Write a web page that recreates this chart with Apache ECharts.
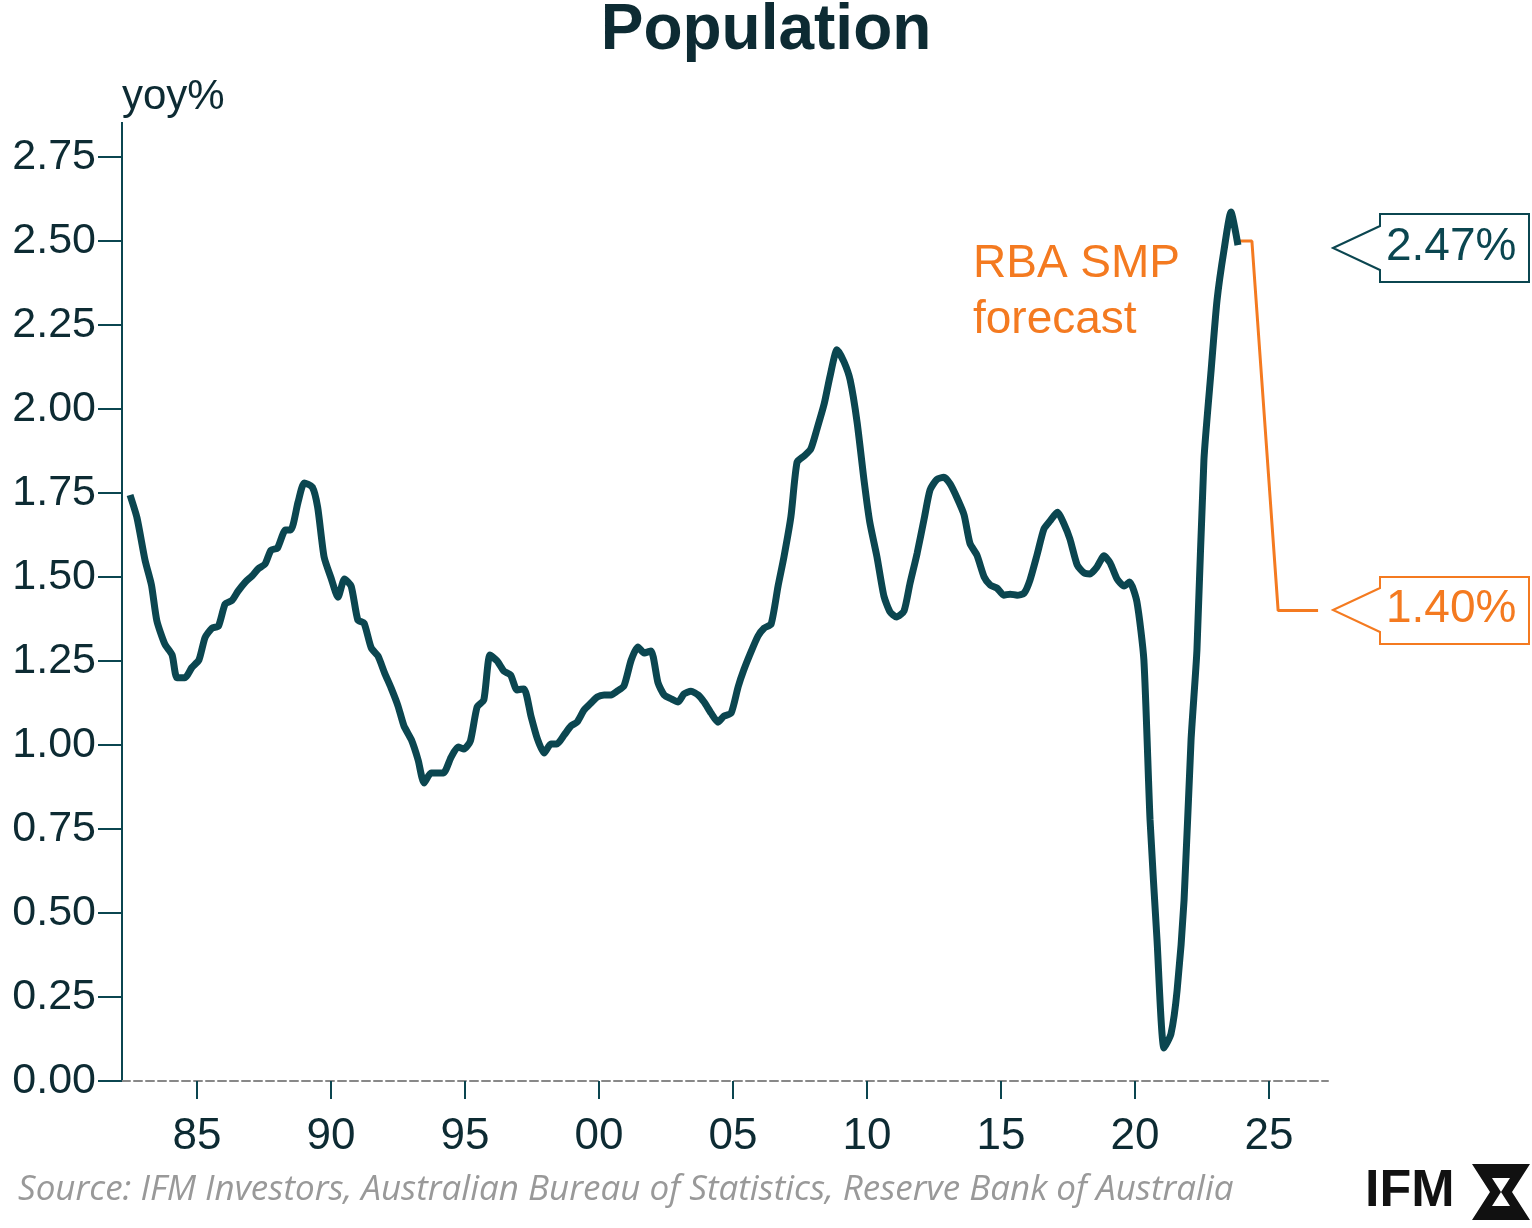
<!DOCTYPE html>
<html>
<head>
<meta charset="utf-8">
<title>Population</title>
<script src="https://cdn.jsdelivr.net/npm/echarts@6/dist/echarts.min.js"></script>
<style>body{margin:0;background:#fff}</style>
</head>
<body>
<div id="main" style="width:1532px;height:1228px;"></div>
<script type="text/javascript">
// quarterly
var years = [1982.5,1982.76,1983.06,1983.3,1983.5,1983.8,1984.07,1984.25,1984.55,1984.8,1985.07,1985.3,1985.56,1985.8,1986.05,1986.3,1986.53,1986.8,1987.05,1987.28,1987.54,1987.76,1988.0,1988.3,1988.5,1988.77,1989.0,1989.3,1989.5,1989.74,1990.0,1990.26,1990.5,1990.75,1991.0,1991.23,1991.5,1991.75,1992.0,1992.24,1992.5,1992.72,1993.0,1993.25,1993.47,1993.73,1994.0,1994.2,1994.48,1994.74,1994.96,1995.2,1995.45,1995.7,1995.93,1996.2,1996.45,1996.7,1996.94,1997.2,1997.46,1997.7,1997.95,1998.2,1998.43,1998.7,1998.96,1999.18,1999.44,1999.7,1999.93,2000.19,2000.45,2000.67,2000.93,2001.2,2001.45,2001.68,2001.94,2002.2,2002.43,2002.7,2002.95,2003.17,2003.43,2003.7,2003.92,2004.18,2004.44,2004.66,2004.93,2005.19,2005.4,2005.67,2005.93,2006.16,2006.42,2006.68,2006.9,2007.16,2007.39,2007.65,2007.9,2008.13,2008.4,2008.62,2008.88,2009.14,2009.37,2009.63,2009.9,2010.1,2010.37,2010.63,2010.86,2011.1,2011.38,2011.6,2011.87,2012.13,2012.35,2012.6,2012.87,2013.1,2013.36,2013.62,2013.84,2014.1,2014.37,2014.6,2014.85,2015.1,2015.34,2015.6,2015.86,2016.08,2016.34,2016.6,2016.83,2017.1,2017.35,2017.57,2017.84,2018.1,2018.32,2018.58,2018.84,2019.07,2019.33,2019.59,2019.8,2020.07,2020.33,2020.56,2020.82,2021.08,2021.34,2021.57,2021.83,2022.09,2022.31,2022.57,2022.84,2023.06,2023.32,2023.58,2023.84];
var population = [1.744,1.676,1.55,1.476,1.37,1.30,1.268,1.20,1.20,1.23,1.253,1.32,1.348,1.354,1.42,1.43,1.458,1.485,1.503,1.524,1.539,1.58,1.586,1.64,1.64,1.723,1.78,1.768,1.708,1.56,1.497,1.44,1.494,1.473,1.372,1.363,1.289,1.265,1.214,1.17,1.116,1.057,1.015,0.955,0.887,0.917,0.917,0.917,0.964,0.994,0.988,1.012,1.113,1.134,1.268,1.25,1.22,1.208,1.164,1.167,1.086,1.018,0.976,1.003,1.003,1.03,1.057,1.068,1.104,1.125,1.143,1.149,1.149,1.16,1.176,1.253,1.292,1.274,1.28,1.185,1.149,1.137,1.128,1.152,1.16,1.149,1.128,1.095,1.068,1.086,1.095,1.173,1.223,1.277,1.324,1.348,1.36,1.473,1.56,1.68,1.842,1.86,1.881,1.94,2.015,2.098,2.176,2.14,2.086,1.96,1.78,1.664,1.56,1.443,1.396,1.381,1.399,1.48,1.571,1.673,1.759,1.79,1.797,1.777,1.735,1.685,1.6,1.565,1.5,1.476,1.467,1.446,1.449,1.446,1.452,1.491,1.565,1.643,1.667,1.693,1.658,1.613,1.536,1.512,1.509,1.53,1.563,1.542,1.494,1.473,1.485,1.426,1.253,0.777,0.42,0.098,0.14,0.27,0.539,1.015,1.283,1.848,2.116,2.324,2.473,2.586,2.488];
var fcYears = [2023.84,2024.36,2025.34,2026.83];
var fcValues = [2.50,2.50,1.40,1.40];
var xTicks = [1985,1990,1995,2000,2005,2010,2015,2020,2025];

var teal = '#0b4650', orange = '#f47a20';
var zip = function(a, b) { return a.map(function(v, i) { return [v, b[i]]; }); };

var myChart = echarts.init(document.getElementById('main'));
myChart.setOption({
  animation: false,
  title: { text: 'Population', left: 'center', top: -6,
    textStyle: { fontFamily: 'Arial', fontWeight: 'bold', fontSize: 64, color: '#0d2b33' } },
  grid: { left: 122, right: 204, top: 157, bottom: 147 },
  xAxis: {
    type: 'value', min: 1982.2, max: 2027.2,
    axisLine: { lineStyle: { color: '#888', type: 'dashed', width: 2 } },
    axisTick: { customValues: xTicks, length: 18, inside: false, lineStyle: { color: teal, width: 2 } },
    axisLabel: { customValues: xTicks, fontFamily: 'Arial', fontSize: 44, color: '#0d2b33', margin: 34,
      formatter: function(v) { return String(Math.round(v) % 100).padStart(2, '0'); } },
    splitLine: { show: false }
  },
  yAxis: {
    type: 'value', min: 0, max: 2.75, interval: 0.25,
    axisLine: { show: true, lineStyle: { color: teal, width: 2 } },
    axisTick: { show: true, length: 24, lineStyle: { color: teal, width: 2 } },
    axisLabel: { fontFamily: 'Arial', fontSize: 43, color: '#0d2b33', margin: 26,
      formatter: function(v) { return v.toFixed(2); } },
    splitLine: { show: false }
  },
  series: [
    { type: 'line', data: zip(years, population), showSymbol: false, smooth: 0.2,
      lineStyle: { color: teal, width: 7 }, z: 3 },
    { type: 'line', data: zip(fcYears, fcValues), showSymbol: false,
      lineStyle: { color: orange, width: 3 }, z: 2 }
  ],
  graphic: [
    { type: 'line', shape: { x1: 122, y1: 122, x2: 122, y2: 157 }, style: { stroke: teal, lineWidth: 2 } },
    { type: 'text', left: 122, top: 76, style: { text: 'yoy%', font: '42px Arial', fill: '#0d2b33' } },
    { type: 'text', left: 973, top: 236, style: { text: 'RBA SMP\nforecast', font: '46px Arial', fill: orange, lineHeight: 56 } },
    { type: 'polygon', shape: { points: [[1333,248],[1380,226],[1380,214],[1529,214],[1529,282],[1380,282],[1380,270]] },
      style: { fill: '#fff', stroke: teal, lineWidth: 2 } },
    { type: 'text', left: 1386, top: 224, style: { text: '2.47%', font: '46px Arial', fill: teal } },
    { type: 'polygon', shape: { points: [[1333,610],[1380,588],[1380,577],[1529,577],[1529,644],[1380,644],[1380,632]] },
      style: { fill: '#fff', stroke: orange, lineWidth: 2 } },
    { type: 'text', left: 1386, top: 586, style: { text: '1.40%', font: '46px Arial', fill: orange } },
    { type: 'text', left: 18, top: 1173, style: { text: 'Source: IFM Investors, Australian Bureau of Statistics, Reserve Bank of Australia',
      font: 'italic 35px "Open Sans"', fill: '#999' } },
    { type: 'text', left: 1365, top: 1166, style: { text: 'IFM', font: 'bold 52px Arial', fill: '#111' } },
    { type: 'polygon', shape: { points: [[1472,1164],[1530,1164],[1512,1192],[1530,1220],[1472,1220],[1490,1192]] },
      style: { fill: '#111' } },
    { type: 'polygon', shape: { points: [[1492,1178],[1510,1178],[1501,1192]] }, style: { fill: '#fff' } },
    { type: 'polygon', shape: { points: [[1492,1206],[1510,1206],[1501,1192]] }, style: { fill: '#fff' } }
  ]
});
</script>
</body>
</html>
